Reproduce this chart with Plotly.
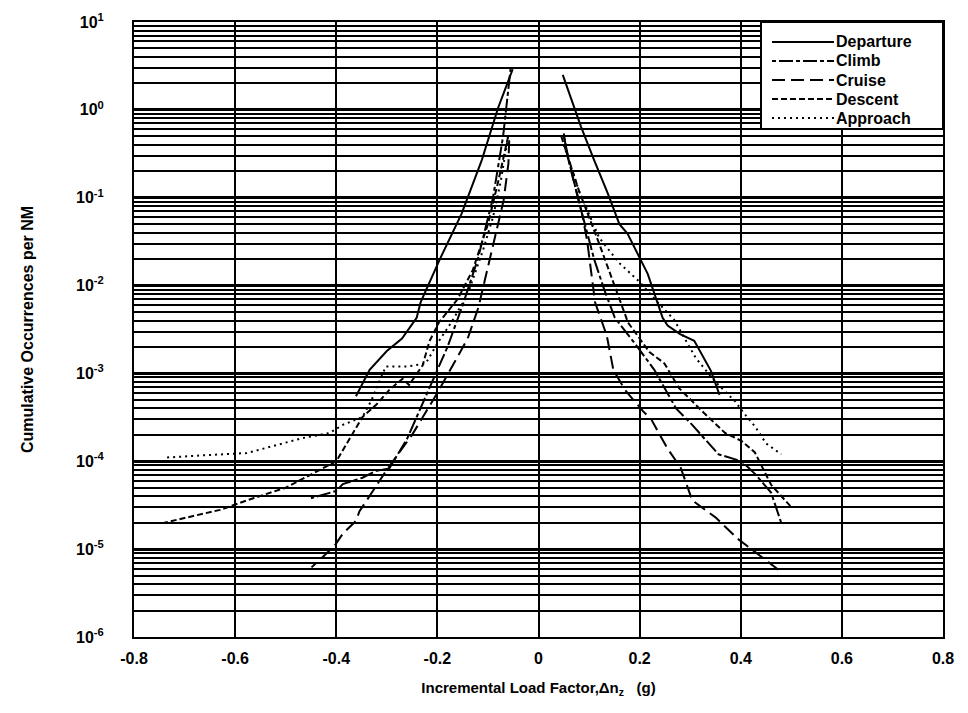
import plotly.graph_objects as go

# ---- data ----
dep_neg_x = [-0.051, -0.08, -0.112, -0.152, -0.195, -0.233, -0.241, -0.27, -0.30, -0.334, -0.361]
dep_neg_y = [2.9, 1.05, 0.27, 0.066, 0.020, 0.0065, 0.0043, 0.0025, 0.0018, 0.0011, 0.00055]
dep_pos_x = [0.048, 0.084, 0.11, 0.137, 0.16, 0.176, 0.216, 0.2455, 0.2554, 0.28, 0.308, 0.341, 0.358]
dep_pos_y = [2.5, 0.645, 0.268, 0.112, 0.05, 0.039, 0.0136, 0.0043, 0.0035, 0.0028, 0.00235, 0.00107, 0.00057]

clb_neg_x = [-0.055, -0.07, -0.09, -0.12, -0.15, -0.18, -0.22, -0.26, -0.295, -0.321, -0.348, -0.387, -0.40, -0.45]
clb_neg_y = [3.0, 0.5, 0.1, 0.02, 0.006, 0.002, 0.0006, 0.00018, 0.000083, 0.000078, 0.000065, 0.000055, 0.000046, 0.000038]
clb_pos_x = [0.05, 0.065, 0.085, 0.11, 0.13, 0.151, 0.193, 0.229, 0.272, 0.304, 0.356, 0.402, 0.43, 0.46, 0.48]
clb_pos_y = [0.5, 0.2, 0.07, 0.02, 0.009, 0.0043, 0.0021, 0.0011, 0.0004, 0.00026, 0.00012, 0.0001, 0.00007, 0.000044, 0.00002]

crz_neg_x = [-0.058, -0.0595, -0.069, -0.0926, -0.109, -0.119, -0.14, -0.17, -0.20, -0.25, -0.30, -0.354, -0.361, -0.387, -0.403, -0.43, -0.449]
crz_neg_y = [0.45, 0.245, 0.093, 0.025, 0.0105, 0.0056, 0.0025, 0.0012, 0.0006, 0.0002, 0.00008, 0.000027, 0.000021, 0.000015, 0.000011, 0.0000078, 0.0000062]
crz_pos_x = [0.05, 0.056, 0.069, 0.086, 0.096, 0.104, 0.112, 0.135, 0.148, 0.171, 0.207, 0.223, 0.255, 0.281, 0.304, 0.35, 0.395, 0.451, 0.48]
crz_pos_y = [0.54, 0.32, 0.16, 0.066, 0.033, 0.015, 0.0064, 0.0027, 0.0011, 0.00065, 0.00037, 0.0003, 0.00014, 0.000085, 0.000036, 0.000023, 0.000013, 0.0000074, 0.0000055]

des_neg_x = [-0.06, -0.08, -0.10, -0.13, -0.16, -0.197, -0.216, -0.229, -0.256, -0.269, -0.295, -0.321, -0.348, -0.40, -0.50, -0.564, -0.63, -0.74]
des_neg_y = [0.5, 0.15, 0.05, 0.015, 0.007, 0.0038, 0.0023, 0.00124, 0.00074, 0.00087, 0.00065, 0.00044, 0.00032, 0.0001, 0.00005, 0.000038, 0.000028, 0.00002]
des_pos_x = [0.045, 0.08, 0.12, 0.15, 0.177, 0.2195, 0.249, 0.278, 0.324, 0.369, 0.402, 0.428, 0.46, 0.50]
des_pos_y = [0.5, 0.12, 0.03, 0.01, 0.0038, 0.00175, 0.0013, 0.00068, 0.00037, 0.00021, 0.00017, 0.000126, 0.000054, 0.00003]

app_neg_x = [-0.06, -0.075, -0.09, -0.11, -0.14, -0.17, -0.20, -0.223, -0.259, -0.302, -0.33, -0.348, -0.387, -0.413, -0.466, -0.577, -0.65, -0.74]
app_neg_y = [0.5, 0.15, 0.06, 0.025, 0.008, 0.004, 0.0022, 0.0013, 0.0012, 0.0012, 0.0005, 0.00032, 0.00026, 0.00021, 0.000184, 0.000124, 0.000118, 0.00011]
app_pos_x = [0.05, 0.08, 0.12, 0.16, 0.20, 0.23, 0.268, 0.311, 0.35, 0.389, 0.405, 0.428, 0.45, 0.48]
app_pos_y = [0.4, 0.12, 0.035, 0.018, 0.011, 0.007, 0.0041, 0.0015, 0.0008, 0.00048, 0.00036, 0.00025, 0.00016, 0.00012]

series_names = ["Departure", "Climb", "Cruise", "Descent", "Approach"]
x_ticks = [-0.8, -0.6, -0.4, -0.2, 0, 0.2, 0.4, 0.6, 0.8]
x_tick_text = ["-0.8", "-0.6", "-0.4", "-0.2", "0", "0.2", "0.4", "0.6", "0.8"]
y_ticks = [1e1, 1e0, 1e-1, 1e-2, 1e-3, 1e-4, 1e-5, 1e-6]
y_tick_text = ["10<sup>1</sup>", "10<sup>0</sup>", "10<sup>-1</sup>", "10<sup>-2</sup>",
               "10<sup>-3</sup>", "10<sup>-4</sup>", "10<sup>-5</sup>", "10<sup>-6</sup>"]

dashes = ["solid", "4px,3px,14px,3px", "13px,6px", "6px,3px", "2px,4px"]
data = [
    (dep_neg_x, dep_neg_y, dep_pos_x, dep_pos_y),
    (clb_neg_x, clb_neg_y, clb_pos_x, clb_pos_y),
    (crz_neg_x, crz_neg_y, crz_pos_x, crz_pos_y),
    (des_neg_x, des_neg_y, des_pos_x, des_pos_y),
    (app_neg_x, app_neg_y, app_pos_x, app_pos_y),
]

FONT = "Liberation Sans, Arial, sans-serif"
W, H = 968, 713
ML, MR, MT, MB = 134, 25, 22, 76
PW, PH = W - ML - MR, H - MT - MB

def px_x(p):   # pixel -> paper x
    return (p - ML) / PW

def px_y(p):   # pixel -> paper y
    return (H - MB - p) / PH

fig = go.Figure()
for name, dash, (nx, ny, px, py) in zip(series_names, dashes, data):
    fig.add_trace(go.Scatter(
        x=list(nx) + [None] + list(px),
        y=list(ny) + [None] + list(py),
        mode="lines", name=name, showlegend=False,
        line=dict(color="black", width=2, dash=dash),
        connectgaps=False,
    ))

# ---- legend box (compact, like the reference) ----
shapes = [dict(type="rect", xref="paper", yref="paper", layer="above",
               x0=px_x(761), x1=1.0, y0=px_y(129), y1=1.0,
               fillcolor="white", line=dict(color="black", width=2))]
annotations = []
row_y = [42, 61, 80, 99, 118]
for name, dash, ry in zip(series_names, dashes, row_y):
    shapes.append(dict(type="line", xref="paper", yref="paper", layer="above",
                       x0=px_x(772), x1=px_x(834), y0=px_y(ry), y1=px_y(ry),
                       line=dict(color="black", width=2, dash=dash)))
    annotations.append(dict(text=name, xref="paper", yref="paper",
                            x=px_x(835), y=px_y(ry), xanchor="left", yanchor="middle",
                            showarrow=False, borderpad=0,
                            font=dict(family=FONT, size=16, color="black", weight="bold")))

fig.update_layout(
    width=W, height=H,
    margin=dict(l=ML, r=MR, t=MT, b=MB),
    paper_bgcolor="white", plot_bgcolor="white",
    font=dict(family=FONT, color="black", size=15),
    showlegend=False,
    shapes=shapes, annotations=annotations,
)
fig.update_xaxes(
    range=[-0.8, 0.8], tickvals=x_ticks, ticktext=x_tick_text,
    showgrid=True, gridcolor="black", gridwidth=2,
    zeroline=False, showline=True, linecolor="black", linewidth=2, mirror=True,
    ticks="outside", ticklen=6, tickcolor="white",
    tickfont=dict(family=FONT, size=16, color="black", weight="bold"),
    title=dict(text="Incremental Load Factor,Δn<sub>z</sub>   (g)",
               font=dict(family=FONT, size=15, color="black", weight="bold"), standoff=16),
)
fig.update_yaxes(
    type="log", range=[-6, 1], tickvals=y_ticks, ticktext=y_tick_text,
    showgrid=True, gridcolor="black", gridwidth=3,
    minor=dict(dtick="D1", showgrid=True, gridcolor="black", gridwidth=1.5, ticks=""),
    zeroline=False, showline=True, linecolor="black", linewidth=2, mirror=True,
    ticks="outside", ticklen=25, tickcolor="white",
    tickfont=dict(family=FONT, size=16, color="black", weight="bold"),
    title=dict(text="Cumulative Occurrences per NM",
               font=dict(family=FONT, size=16, color="black", weight="bold"), standoff=38),
)
fig.write_html("out.html")
